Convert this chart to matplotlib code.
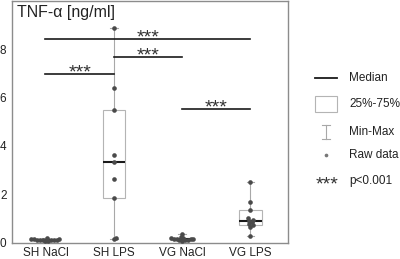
import numpy as np
import matplotlib
matplotlib.use("Agg")
import matplotlib.pyplot as plt
from matplotlib.patches import Rectangle

plt.rcParams['font.family'] = ['Liberation Sans', 'DejaVu Sans']

# === DATA ===
groups = ["SH NaCl", "SH LPS", "VG NaCl", "VG LPS"]

sh_nacl = [0.09, 0.10, 0.11, 0.12, 0.12, 0.13, 0.14, 0.14, 0.15, 0.16, 0.18, 0.20]
sh_lps = [0.16, 0.22, 1.87, 2.62, 3.35, 3.62, 5.50, 6.39, 8.88]
vg_nacl = [0.10, 0.11, 0.13, 0.14, 0.15, 0.16, 0.17, 0.18, 0.19, 0.21, 0.24, 0.38]
vg_lps = [0.30, 0.67, 0.72, 0.78, 0.85, 0.92, 0.96, 1.02, 1.36, 1.68, 2.50]
raw = [sh_nacl, sh_lps, vg_nacl, vg_lps]

q1 = [0.12, 1.87, 0.13, 0.74]
median = [0.14, 3.35, 0.16, 0.92]
q3 = [0.16, 5.50, 0.19, 1.36]

sig_pairs = [(0, 1), (1, 2), (0, 3), (2, 3)]
sig_heights = [6.95, 7.67, 8.40, 5.52]
sig_label = "***"

legend_labels = ["Median", "25%-75%", "Min-Max", "Raw data", "p<0.001"]

# === FIGURE ===
fig = plt.figure(figsize=(4.0, 2.59), dpi=100)
ax = fig.add_axes([0.03, 0.062, 0.69, 0.934])
ax.set_xlim(-0.49, 3.55)
ax.set_ylim(0, 9.98)

# box stats for bxp
stats = []
for i in range(len(groups)):
    stats.append({
        "q1": q1[i], "med": median[i], "q3": q3[i],
        "whislo": min(raw[i]), "whishi": max(raw[i]),
        "fliers": [], "label": groups[i],
    })
ax.bxp(stats, positions=range(len(groups)), widths=0.33, showfliers=False,
       patch_artist=True,
       boxprops=dict(facecolor="white", edgecolor="#b4b4b4", linewidth=0.8),
       whiskerprops=dict(color="#a8a8a8", linewidth=0.8),
       capprops=dict(color="#a8a8a8", linewidth=0.8),
       medianprops=dict(color="#1a1a1a", linewidth=1.5),
       capwidths=0.11)


def swarm_offsets(vals, xs=68.3, ys=24.25, diam=2.8, step=0.4):
    # simple beeswarm in pixel space
    order = np.argsort(vals)
    placed = []
    offs = np.zeros(len(vals))
    for idx in order:
        y = vals[idx] * ys
        k = 0
        while True:
            cands = [0.0] if k == 0 else [k * step, -k * step]
            ok = None
            for c in cands:
                if all((c - px) ** 2 + (y - py) ** 2 >= diam ** 2 for px, py in placed):
                    ok = c
                    break
            if ok is not None:
                placed.append((ok, y))
                offs[idx] = ok / xs
                break
            k += 1
    return offs


for i, vals in enumerate(raw):
    offs = swarm_offsets(np.array(vals))
    ax.scatter(i + offs, vals, s=11, color="#4a4a4a", zorder=3, linewidths=0)

# significance bars
for (a, b), h in zip(sig_pairs, sig_heights):
    ax.plot([a, b], [h, h], color="#1a1a1a", lw=1.2, zorder=4)
    ax.text((a + b) / 2, h - 0.14, sig_label, ha="center", va="baseline",
            fontsize=14, color="#333333")

ax.text(0.018, 0.985, "TNF-α [ng/ml]", transform=ax.transAxes, ha="left", va="top",
        fontsize=11.5, color="#222222")

ax.set_yticks([0, 2, 4, 6, 8])
ax.set_xticks(range(len(groups)))
ax.set_xticklabels(groups)
ax.tick_params(length=0, labelsize=8.5, colors="#222222")
ax.tick_params(axis="y", pad=4)
ax.tick_params(axis="x", pad=3)
for s in ax.spines.values():
    s.set_color("#8c8c8c")
    s.set_linewidth(1.0)

# === LEGEND (drawn in pixel space) ===
lg = fig.add_axes([0, 0, 1, 1])
lg.set_xlim(0, 400)
lg.set_ylim(259, 0)
lg.axis("off")
lg.plot([315, 337], [78, 78], color="#1a1a1a", lw=1.3)
lg.add_patch(Rectangle((315, 96), 22, 16, facecolor="white", edgecolor="#b4b4b4", lw=0.8))
lg.plot([326, 326], [125, 139], color="#a8a8a8", lw=0.8)
lg.plot([322, 330], [125, 125], color="#a8a8a8", lw=0.8)
lg.plot([322, 330], [139, 139], color="#a8a8a8", lw=0.8)
lg.scatter([326], [155], s=7, color="#777777", linewidths=0)
lg.text(327, 189, sig_label, ha="center", va="baseline", fontsize=14, color="#333333")
for lab, y in zip(legend_labels, [78, 104, 132, 155, 181]):
    lg.text(349, y, lab, ha="left", va="center", fontsize=8.5, color="#222222")

fig.savefig("out.png", dpi=100)
